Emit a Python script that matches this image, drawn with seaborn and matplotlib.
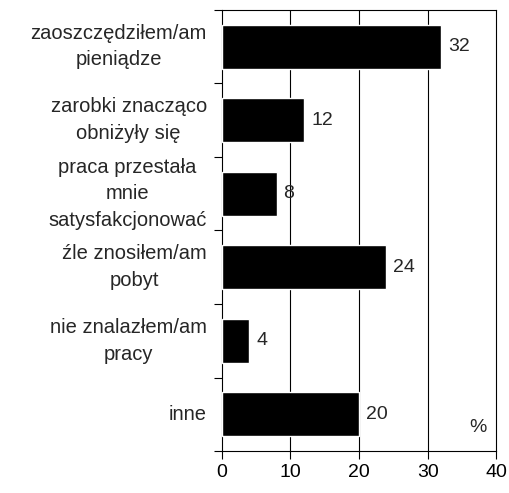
import matplotlib.pyplot as plt
import pandas as pd
import seaborn as sns

# dane
categories = [
    "zaoszczędziłem/am\npieniądze",
    "zarobki znacząco\nobniżyły się",
    "praca przestała\nmnie\nsatysfakcjonować",
    "źle znosiłem/am\npobyt",
    "nie znalazłem/am\npracy",
    "inne",
]
values = [32, 12, 8, 24, 4, 20]
x_ticks = [0, 10, 20, 30, 40]

df = pd.DataFrame({"powod": categories, "proc": values})

sns.set_style("white")
plt.rcParams["font.family"] = ["Liberation Sans", "DejaVu Sans"]

fig = plt.figure(figsize=(5.1, 4.93), dpi=100)
ax = fig.add_axes([0.435, 0.085, 0.538, 0.895])

sns.barplot(data=df, y="powod", x="proc", orient="h", color="black",
            width=0.6, saturation=1, ax=ax, zorder=3)

for i, v in enumerate(values):
    ax.text(v + 1.0, i, str(v), va="center", ha="left", fontsize=14)

ax.set_xlim(0, 40)
ax.set_ylim(len(categories) - 0.5, -0.5)
ax.set_xticks(x_ticks)
ax.set_xticklabels([str(t) for t in x_ticks], fontsize=14)
ax.set_yticks([i - 0.5 for i in range(len(categories) + 1)])
ax.set_yticklabels([])
# etykiety kategorii: wyrównane do prawej, wiersze wyśrodkowane
for i, lab in enumerate(categories):
    ax.text(-0.055, i, lab, transform=ax.get_yaxis_transform(), ha="right",
            va="center", multialignment="center", fontsize=14.5,
            linespacing=1.5)
ax.set_xlabel("")
ax.set_ylabel("")

for x in x_ticks[1:-1]:
    ax.axvline(x, color="black", lw=0.8, zorder=1)

for s in ax.spines.values():
    s.set_visible(True)
    s.set_color("black")
    s.set_linewidth(0.8)

ax.tick_params(axis="both", direction="out", length=6, width=0.8, colors="black",
               left=True, bottom=True)
ax.tick_params(axis="x", pad=3)

ax.text(0.965, 0.035, "%", transform=ax.transAxes, ha="right", va="bottom",
        fontsize=14)

fig.savefig("out.png", dpi=100)
